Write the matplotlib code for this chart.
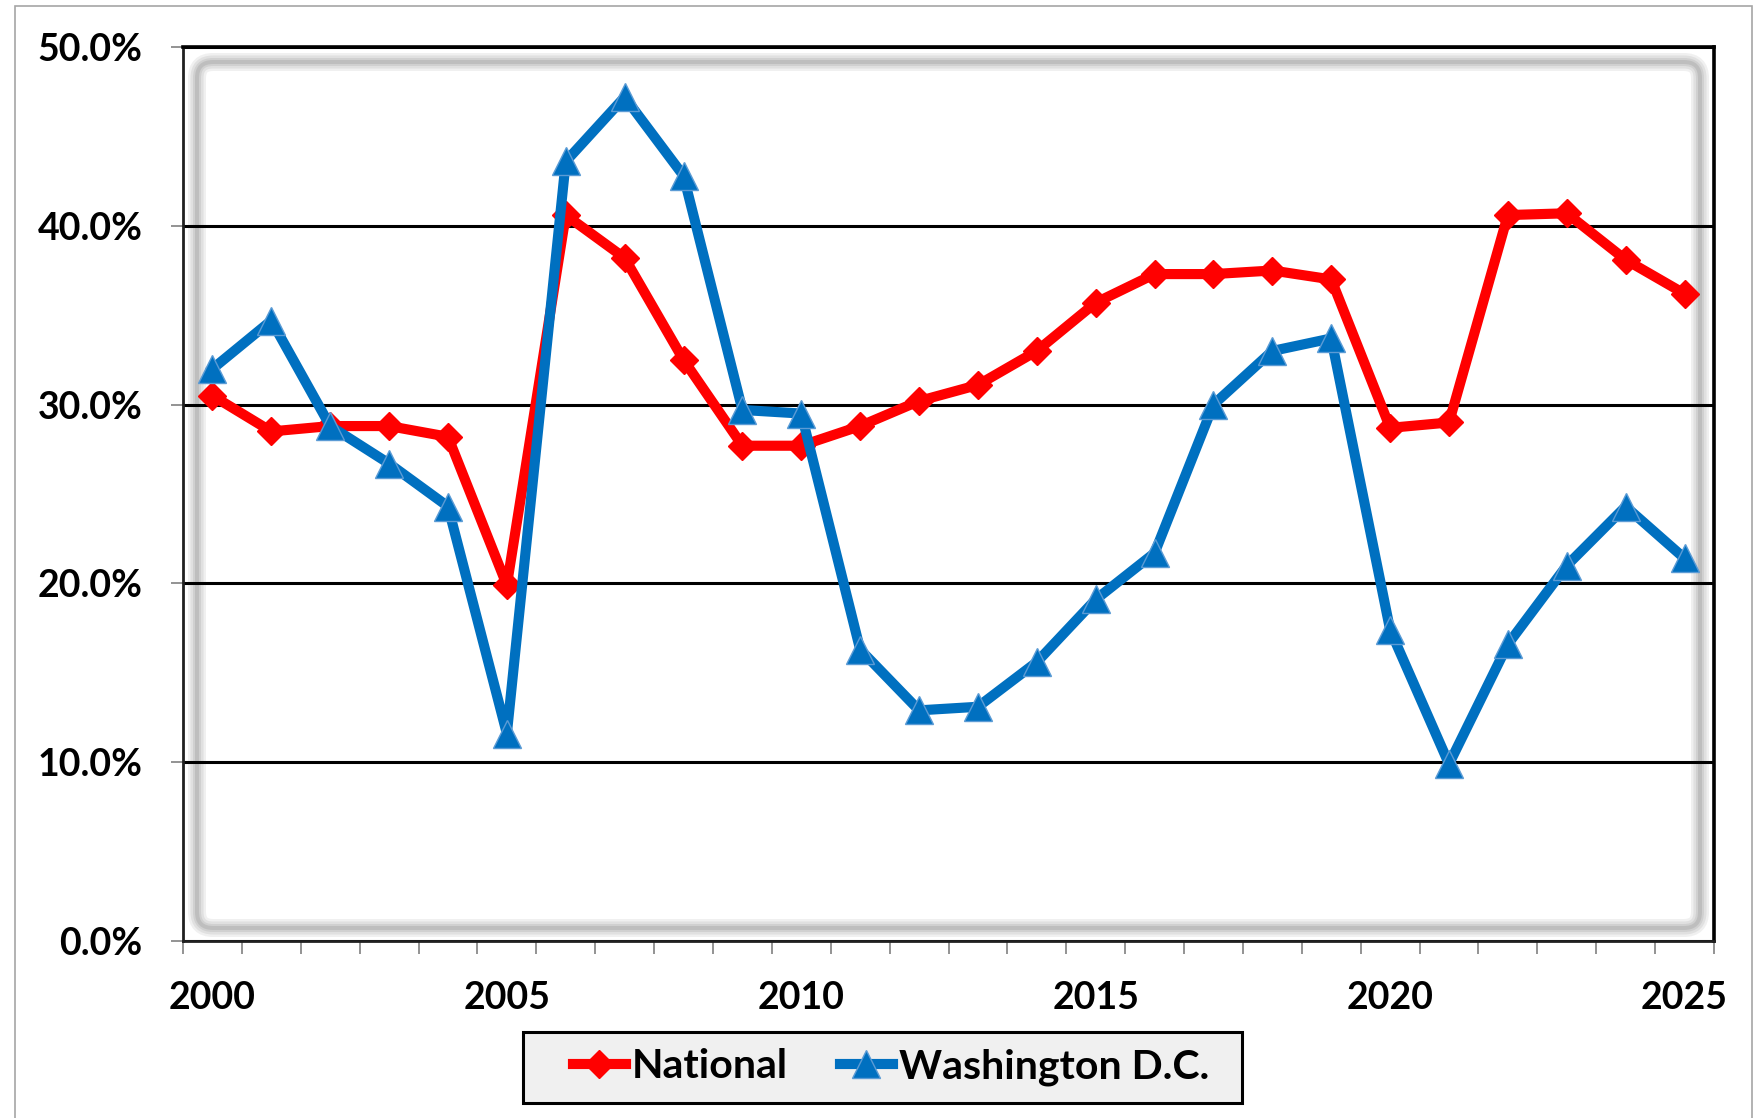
import matplotlib
matplotlib.use("Agg")
import matplotlib.pyplot as plt
from matplotlib.patches import FancyBboxPatch, Rectangle
from matplotlib.transforms import IdentityTransform
from matplotlib.ticker import FixedLocator, FuncFormatter

# Data (percent)
years = list(range(2000, 2026))
national = [30.5, 28.5, 28.8, 28.8, 28.2, 19.9, 40.6, 38.2, 32.5, 27.7,
            27.7, 28.8, 30.2, 31.1, 33.0, 35.7, 37.3, 37.3, 37.5, 37.0,
            28.7, 29.0, 40.6, 40.7, 38.1, 36.2]
washington = [32.0, 34.7, 28.8, 26.7, 24.3, 11.6, 43.6, 47.2, 42.8, 29.7,
              29.5, 16.3, 12.9, 13.1, 15.6, 19.1, 21.7, 30.0, 33.0, 33.7,
              17.4, 9.9, 16.6, 21.0, 24.3, 21.4]
year_labels = [str(y) if y % 5 == 0 else "" for y in years]
y_ticks = [0, 10, 20, 30, 40, 50]

plt.rcParams['font.family'] = ['Lato', 'DejaVu Sans']

W, H = 1754, 1118
fig = plt.figure(figsize=(W / 100, H / 100), dpi=100)
ax = fig.add_axes([183 / W, 1 - 941 / H, (1714 - 183) / W, (941 - 47) / H])

x = list(range(len(years)))
ax.plot(x, national, color='#FF0000', lw=7.3, marker='D', ms=14,
        mec='#FF0000', label='National', zorder=3)
ax.plot(x, washington, color='#0070C0', lw=7.3, marker='^', ms=20,
        mec='#5B9BD5', mew=1, label='Washington D.C.', zorder=4)

ax.set_xlim(-0.5, len(years) - 0.5)
ax.set_ylim(0, 50)

# x axis: labels every 5 years, ticks between categories
ax.xaxis.set_major_locator(FixedLocator(x))
ax.set_xticklabels(year_labels)
ax.xaxis.set_minor_locator(FixedLocator([i - 0.5 for i in range(len(years) + 1)]))
ax.tick_params(axis='x', which='major', length=0, pad=29)
ax.tick_params(axis='x', which='minor', length=9, width=1.2, color='#808080', direction='out')

ax.yaxis.set_major_locator(FixedLocator(y_ticks))
ax.yaxis.set_major_formatter(FuncFormatter(lambda v, p: f"{v:.1f}%"))
ax.tick_params(axis='y', length=9, width=1.2, color='#808080', direction='out', pad=20)

for lab in ax.get_xticklabels() + ax.get_yticklabels():
    lab.set_fontsize(27)
    lab.set_fontweight('bold')

ax.set_axisbelow(True)
ax.grid(axis='y', color='black', lw=2.2)

for side in ['top', 'right']:
    ax.spines[side].set_linewidth(2.6)
for side in ['left', 'bottom']:
    ax.spines[side].set_linewidth(2)
    ax.spines[side].set_color('#202020')

# soft inner shadow of the plot area
bb = ax.get_window_extent()
for lw, a in [(18, 0.10), (13, 0.12), (8, 0.14), (4, 0.18)]:
    sh = FancyBboxPatch((bb.x0 + 14, bb.y0 + 13), bb.width - 28, bb.height - 28,
                        boxstyle="round,pad=0,rounding_size=16",
                        transform=IdentityTransform(), fill=False,
                        edgecolor='#707070', lw=lw * 0.72, alpha=a, zorder=0.2)
    ax.add_patch(sh)

# legend box and legend
fig.add_artist(Rectangle((523 / W, 1 - 1103 / H), (1242 - 523) / W, 71 / H,
                         transform=fig.transFigure, facecolor='#F0F0F0',
                         edgecolor='black', lw=2.2, zorder=2))
leg = fig.legend(loc='center', bbox_to_anchor=(891 / W, 1 - 1067 / H), ncol=2,
                 frameon=False, prop={'family': 'Lato', 'weight': 'bold', 'size': 29.5},
                 handlelength=1.3, handletextpad=0.15, columnspacing=1.25)
leg.set_zorder(5)

# outer chart border
fig.add_artist(Rectangle((15 / W, -0.05), (1752 - 15) / W, 1.05 - 6 / H,
                         transform=fig.transFigure, fill=False,
                         edgecolor='#A6A6A6', lw=1.2, zorder=1))

fig.savefig("out.png", dpi=100)
